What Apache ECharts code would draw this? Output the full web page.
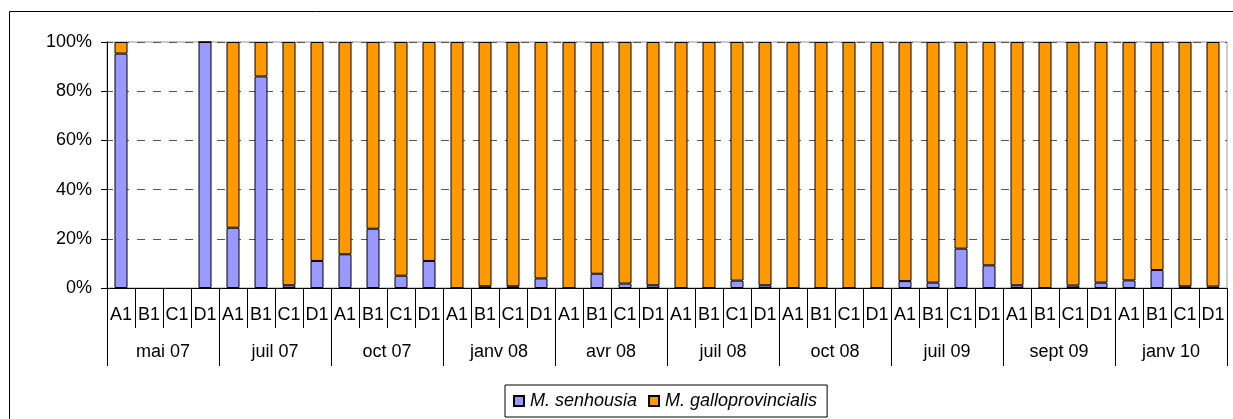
<!DOCTYPE html>
<html>
<head>
<meta charset="utf-8">
<script src="https://cdn.jsdelivr.net/npm/echarts@6/dist/echarts.min.js"></script>
<style>
html,body{margin:0;padding:0;background:#fff;}
#chart{width:1233px;height:419px;}
</style>
</head>
<body>
<div id="chart"></div>
<script>
const sites = ['A1','B1','C1','D1'];
const dates = ['mai 07','juil 07','oct 07','janv 08','avr 08','juil 08','oct 08','juil 09','sept 09','janv 10'];
const yTicks = [0,20,40,60,80,100];

const senhousia = [
  95.3, null, null, 100,
  24.5, 86, 1.1, 11,
  13.7, 24.1, 5, 11,
  0, 0.7, 0.7, 3.9,
  0, 5.8, 1.8, 1.1,
  0, 0, 3, 1.1,
  0, 0, 0, 0,
  2.8, 2.2, 16, 9.2,
  1.1, 0, 1, 2.2,
  3.1, 7.3, 0.7, 0.6
];
const galloprovincialis = [
  4.7, null, null, 0,
  75.5, 14, 98.9, 89,
  86.3, 75.9, 95, 89,
  100, 99.3, 99.3, 96.1,
  100, 94.2, 98.2, 98.9,
  100, 100, 97, 98.9,
  100, 100, 100, 100,
  97.2, 97.8, 84, 90.8,
  98.9, 100, 99, 97.8,
  96.9, 92.7, 99.3, 99.4
];

const categories = [];
dates.forEach(d => sites.forEach(s => categories.push(s)));

const FONT = 'Liberation Sans, Arial, sans-serif';
const chart = echarts.init(document.getElementById('chart'), null, {renderer:'canvas'});
chart.setOption({
  animation: false,
  backgroundColor: '#fff',
  textStyle: {fontFamily: FONT, color: '#000'},
  grid: {left: 107, right: 6, top: 42, bottom: 131, containLabel: false,
         show: true, borderColor: '#999', borderWidth: 1, backgroundColor: 'transparent'},
  graphic: [{
    type: 'rect', silent: true, z: 0,
    shape: {x: 9.5, y: 11.5, width: 1260, height: 460},
    style: {fill: 'none', stroke: '#000', lineWidth: 1}
  }],
  legend: {
    data: ['M. senhousia', 'M. galloprovincialis'],
    left: 505, top: 385,
    orient: 'horizontal',
    icon: 'rect',
    itemWidth: 10, itemHeight: 10, itemGap: 11,
    padding: [7, 10, 7, 8],
    borderColor: '#000', borderWidth: 1,
    textStyle: {fontFamily: FONT, fontSize: 18, fontStyle: 'italic', color: '#000', padding: [0,0,0,1]}
  },
  xAxis: [{
    type: 'category', data: categories, position: 'bottom',
    axisLine: {show: true, lineStyle: {color: '#000', width: 1}},
    axisTick: {show: true, interval: 0, length: 40, lineStyle: {color: '#000'}},
    axisLabel: {interval: 0, margin: 18, fontSize: 18, color: '#000', fontFamily: FONT},
    splitLine: {show: false}
  }, {
    type: 'category', data: dates, position: 'bottom',
    axisLine: {show: false},
    axisTick: {show: true, interval: 0, length: 78, lineStyle: {color: '#000'}},
    axisLabel: {interval: 0, margin: 55, fontSize: 18, color: '#000', fontFamily: FONT},
    splitLine: {show: false}
  }],
  yAxis: [{
    type: 'value', min: 0, max: 100, interval: 20,
    axisLine: {show: true, lineStyle: {color: '#000'}},
    axisTick: {show: true, length: 6, lineStyle: {color: '#000'}},
    axisLabel: {formatter: '{value}%', margin: 15, fontSize: 18, color: '#000', fontFamily: FONT},
    splitLine: {show: true, lineStyle: {color: '#555', type: [8, 8], dashOffset: 2, width: 1}}
  }],
  series: [{
    name: 'M. senhousia', type: 'bar', stack: 'total', data: senhousia,
    barWidth: 13,
    itemStyle: {color: '#9999FF', borderColor: '#000', borderWidth: 1}
  }, {
    name: 'M. galloprovincialis', type: 'bar', stack: 'total', data: galloprovincialis,
    barWidth: 13,
    itemStyle: {color: '#FF9900', borderColor: '#000', borderWidth: 1}
  }]
});
</script>
</body>
</html>
